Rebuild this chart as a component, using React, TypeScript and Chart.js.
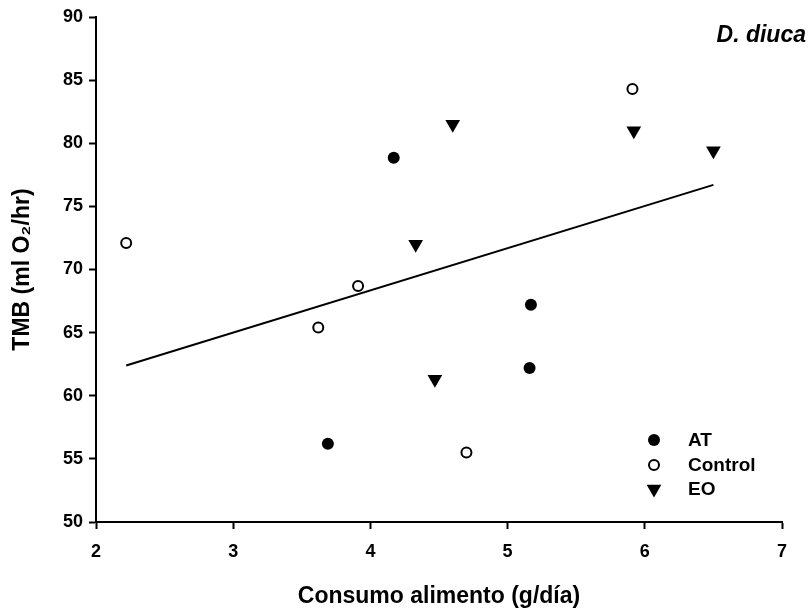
import React, { useEffect, useRef } from 'react';
import { Chart, registerables } from 'chart.js';

Chart.register(...registerables);

// ---- data ----
const atX = [4.17, 5.17, 5.16, 3.69];
const atY = [78.85, 67.2, 62.2, 56.2];
const controlX = [2.22, 3.91, 3.62, 4.7, 5.91];
const controlY = [72.1, 68.7, 65.4, 55.5, 84.3];
const eoX = [4.6, 4.33, 4.47, 5.92, 6.5];
const eoY = [81.5, 72.0, 61.3, 81.0, 79.4];
const fitX = [2.22, 6.5];
const fitY = [62.4, 76.7];
const xTicks = [2, 3, 4, 5, 6, 7];
const yTicks = [50, 55, 60, 65, 70, 75, 80, 85, 90];
const seriesLabels = ['AT', 'Control', 'EO'];
const speciesLabel = 'D. diuca';
const xTitle = 'Consumo alimento (g/día)';
const yTitle = 'TMB (ml O₂/hr)';

const FONT = "'Liberation Sans', Arial, Helvetica, sans-serif";

const pts = (xs: number[], ys: number[]) => xs.map((x, i) => ({ x, y: ys[i] }));

const overlayPlugin = {
  id: 'overlay',
  afterDraw(chart: any) {
    const ctx = chart.ctx as CanvasRenderingContext2D;
    ctx.save();
    // species label
    ctx.fillStyle = '#000';
    ctx.font = `italic bold 23px ${FONT}`;
    ctx.textAlign = 'right';
    ctx.textBaseline = 'alphabetic';
    ctx.fillText(speciesLabel, 806, 42);

    // legend
    const mx = 654;
    const tx = 688;
    const ys = [440, 465, 489];
    ctx.font = `bold 19px ${FONT}`;
    ctx.textAlign = 'left';
    ctx.textBaseline = 'middle';
    seriesLabels.forEach((lab, i) => {
      const y = ys[i];
      ctx.beginPath();
      if (i === 0) {
        ctx.arc(mx, y, 6, 0, Math.PI * 2);
        ctx.fillStyle = '#000';
        ctx.fill();
      } else if (i === 1) {
        ctx.arc(mx, y, 5, 0, Math.PI * 2);
        ctx.lineWidth = 2;
        ctx.strokeStyle = '#000';
        ctx.stroke();
      } else {
        const r = 8.5;
        ctx.moveTo(mx - r * 0.866, y - r * 0.5);
        ctx.lineTo(mx + r * 0.866, y - r * 0.5);
        ctx.lineTo(mx, y + r);
        ctx.closePath();
        ctx.fillStyle = '#000';
        ctx.fill();
      }
      ctx.fillStyle = '#000';
      ctx.fillText(lab, tx, y + 1);
    });
    ctx.restore();
  },
};

export default function App() {
  const ref = useRef<HTMLCanvasElement | null>(null);
  useEffect(() => {
    if (!ref.current) return;
    const chart = new Chart(ref.current, {
      type: 'scatter',
      data: {
        datasets: [
          {
            label: seriesLabels[0],
            data: pts(atX, atY),
            pointStyle: 'circle',
            pointRadius: 6,
            backgroundColor: '#000',
            borderColor: '#000',
            borderWidth: 0,
          },
          {
            label: seriesLabels[1],
            data: pts(controlX, controlY),
            pointStyle: 'circle',
            pointRadius: 5,
            backgroundColor: '#fff',
            borderColor: '#000',
            borderWidth: 2,
          },
          {
            label: seriesLabels[2],
            data: pts(eoX, eoY),
            pointStyle: 'triangle',
            rotation: 180,
            pointRadius: 8.5,
            backgroundColor: '#000',
            borderColor: '#000',
            borderWidth: 0,
          },
          {
            label: 'fit',
            data: pts(fitX, fitY),
            showLine: true,
            pointRadius: 0,
            borderColor: '#000',
            borderWidth: 2,
            fill: false,
          } as any,
        ],
      },
      options: {
        animation: false,
        responsive: false,
        maintainAspectRatio: false,
        devicePixelRatio: 1,
        layout: { padding: { top: 17, right: 28, left: 0, bottom: 0 } },
        plugins: {
          legend: { display: false },
          tooltip: { enabled: false },
        },
        scales: {
          x: {
            type: 'linear',
            min: 2,
            max: 7,
            afterBuildTicks: (s: any) => {
              s.ticks = xTicks.map((v) => ({ value: v }));
            },
            afterFit: (s: any) => {
              s.height = 91;
            },
            ticks: {
              color: '#000',
              font: { family: FONT, size: 18, weight: 'bold' },
              padding: 12,
            },
            grid: {
              display: true,
              drawOnChartArea: false,
              drawTicks: true,
              tickLength: 7,
              tickWidth: 2,
              tickColor: '#000',
            },
            border: { display: true, color: '#000', width: 2 },
            title: {
              display: true,
              text: xTitle,
              color: '#000',
              font: { family: FONT, size: 23, weight: 'bold' },
              padding: { top: 0, bottom: 3 },
            },
          },
          y: {
            type: 'linear',
            min: 50,
            max: 90,
            afterBuildTicks: (s: any) => {
              s.ticks = yTicks.map((v) => ({ value: v }));
            },
            afterFit: (s: any) => {
              s.width = 96;
            },
            ticks: {
              color: '#000',
              font: { family: FONT, size: 18, weight: 'bold' },
              padding: 6,
            },
            grid: {
              display: true,
              drawOnChartArea: false,
              drawTicks: true,
              tickLength: 7,
              tickWidth: 2,
              tickColor: '#000',
            },
            border: { display: true, color: '#000', width: 2 },
            title: {
              display: true,
              text: yTitle,
              color: '#000',
              font: { family: FONT, size: 23, weight: 'bold' },
              padding: { top: 9, bottom: 0 },
            },
          },
        },
      },
      plugins: [overlayPlugin],
    });
    return () => chart.destroy();
  }, []);
  return (
    <div style={{ position: 'fixed', left: 0, top: 0, width: 810, height: 613, background: '#fff' }}>
      <canvas ref={ref} width={810} height={613} />
    </div>
  );
}
